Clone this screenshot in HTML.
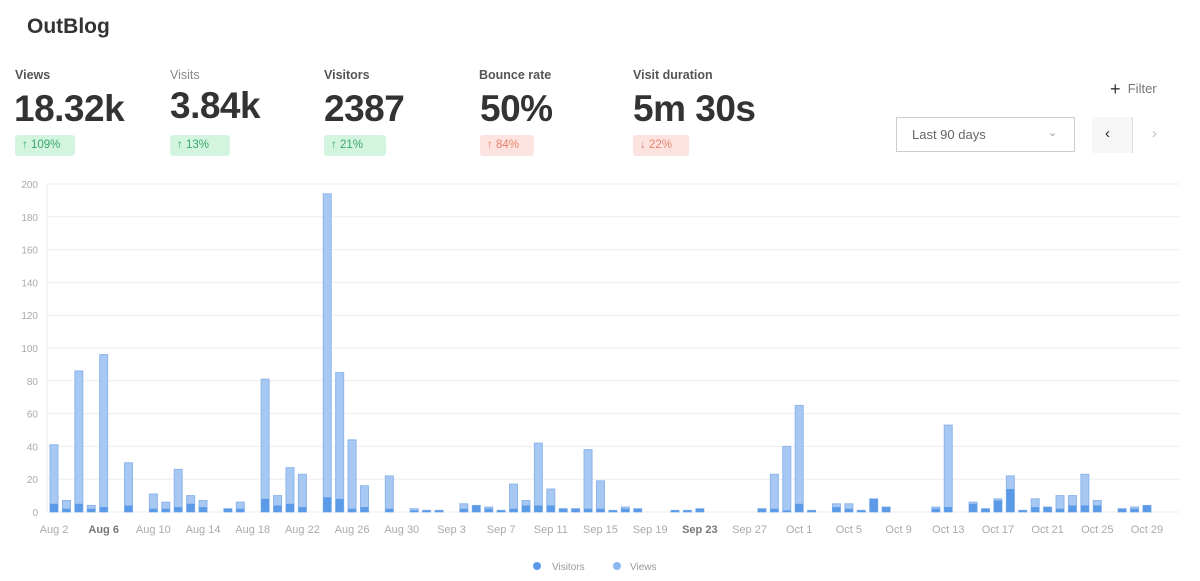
<!DOCTYPE html>
<html><head><meta charset="utf-8"><style>
body{margin:0;width:1200px;height:581px;background:#fff;font-family:"Liberation Sans",sans-serif;overflow:hidden;position:relative;color:#333}
.abs{position:absolute}
.lbl{font-size:12.5px;font-weight:bold;color:#555}
.big{font-size:37px;font-weight:bold;color:#333;letter-spacing:-0.5px}
.badge{font-size:11.5px;height:21px;line-height:21px;padding:0 7px;border-radius:3px}
.g{background:#d3f5e0;color:#3aa66a}
.r{background:#fde3e0;color:#e58570}
</style></head><body>
<div class="abs" style="left:27px;top:15px;font-size:21px;font-weight:bold;color:#333">OutBlog</div>

<div class="abs lbl" style="left:15px;top:68px">Views</div>
<div class="abs big" style="left:14px;top:88px">18.32k</div>
<div class="abs badge g" style="left:15px;top:135px;width:46px">↑ 109%</div>

<div class="abs lbl" style="left:170px;top:68px;font-weight:normal;color:#888">Visits</div>
<div class="abs big" style="left:170px;top:85px">3.84k</div>
<div class="abs badge g" style="left:170px;top:135px;width:46px">↑ 13%</div>

<div class="abs lbl" style="left:324px;top:68px">Visitors</div>
<div class="abs big" style="left:324px;top:88px">2387</div>
<div class="abs badge g" style="left:324px;top:135px;width:48px">↑ 21%</div>

<div class="abs lbl" style="left:479px;top:68px">Bounce rate</div>
<div class="abs big" style="left:480px;top:88px">50%</div>
<div class="abs badge r" style="left:480px;top:135px;width:40px">↑ 84%</div>

<div class="abs lbl" style="left:633px;top:68px">Visit duration</div>
<div class="abs big" style="left:633px;top:88px">5m 30s</div>
<div class="abs badge r" style="left:633px;top:135px;width:42px">↓ 22%</div>

<div class="abs" style="left:1110px;top:79px;font-size:13px;color:#777"><span style="font-size:18px;color:#333;vertical-align:-2px">+</span>&nbsp; Filter</div>
<div class="abs" style="left:896px;top:117px;width:179px;height:35px;border:1px solid #ccc;box-sizing:border-box"></div>
<div class="abs" style="left:912px;top:127px;font-size:13px;color:#666">Last 90 days</div>
<div class="abs" style="left:1048px;top:126px;font-size:11px;color:#999">⌄</div>
<div class="abs" style="left:1092px;top:117px;width:40px;height:36px;background:#f7f7f7;border-right:1px solid #ddd"></div>
<div class="abs" style="left:1105px;top:125px;font-size:15px;color:#222">‹</div>
<div class="abs" style="left:1152px;top:125px;font-size:15px;color:#bbb">›</div>

<svg class="abs" style="left:0;top:0" width="1200" height="581" id="c"></svg>
<script>
var s='';
for(var i=0;i<=10;i++){var y=512-i*32.8;
s+='<line x1="47" x2="1180" y1="'+y+'" y2="'+y+'" stroke="#eeeeee"/>';
s+='<text x="38" y="'+(y+4)+'" text-anchor="end" font-size="10" fill="#aaa" font-family="Liberation Sans">'+(i*20)+'</text>';}
s+='<line x1="47" x2="47" y1="184" y2="512" stroke="#eee"/>';
var d={0:[41,5],1:[7,2],2:[86,5],3:[4,2],4:[96,3],6:[30,4],8:[11,2],9:[6,2],10:[26,3],11:[10,5],12:[7,3],14:[2,2],15:[6,2],17:[81,8],18:[10,4],19:[27,5],20:[23,3],22:[194,9],23:[85,8],24:[44,2],25:[16,3],27:[22,2],29:[2,1],30:[1,1],31:[1,1],33:[5,2],34:[4,4],35:[3,2],36:[1,1],37:[17,2],38:[7,4],39:[42,4],40:[14,4],41:[2,2],42:[2,2],43:[38,2],44:[19,2],45:[1,1],46:[3,2],47:[2,2],50:[1,1],51:[1,1],52:[2,2],57:[2,2],58:[23,2],59:[40,1],60:[65,5],61:[1,1],63:[5,3],64:[5,2],65:[1,1],66:[8,8],67:[3,3],71:[3,2],72:[53,3],74:[6,5],75:[2,2],76:[8,7],77:[22,14],78:[1,1],79:[8,3],80:[3,3],81:[10,2],82:[10,4],83:[23,4],84:[7,4],86:[2,2],87:[3,2],88:[4,4]};
for(var k in d){var x=54+12.42*k-4,v=d[k][0],u=d[k][1];
var hv=v*1.64,hu=u*1.64;
s+='<rect x="'+x+'" y="'+(512-hv)+'" width="8" height="'+hv+'" fill="#a8c8f4" stroke="#8db5ea" stroke-width="1"/>';
s+='<rect x="'+x+'" y="'+(512-hu)+'" width="8" height="'+hu+'" fill="#5a9ae6"/>';}
var L=['Aug 2','Aug 6','Aug 10','Aug 14','Aug 18','Aug 22','Aug 26','Aug 30','Sep 3','Sep 7','Sep 11','Sep 15','Sep 19','Sep 23','Sep 27','Oct 1','Oct 5','Oct 9','Oct 13','Oct 17','Oct 21','Oct 25','Oct 29'];
for(var j=0;j<L.length;j++){var b=(j==1||j==13);
s+='<text x="'+(54+12.42*4*j)+'" y="533" text-anchor="middle" font-size="11" fill="'+(b?'#777':'#aaa')+'" font-weight="'+(b?'bold':'normal')+'" font-family="Liberation Sans">'+L[j]+'</text>';}
s+='<circle cx="537" cy="566" r="4" fill="#5a9ae6"/><text x="552" y="570" font-size="10" fill="#999" font-family="Liberation Sans">Visitors</text>';
s+='<circle cx="617" cy="566" r="4" fill="#8db8ef"/><text x="630" y="570" font-size="10" fill="#999" font-family="Liberation Sans">Views</text>';
document.getElementById('c').innerHTML=s;
</script>
</body></html>
